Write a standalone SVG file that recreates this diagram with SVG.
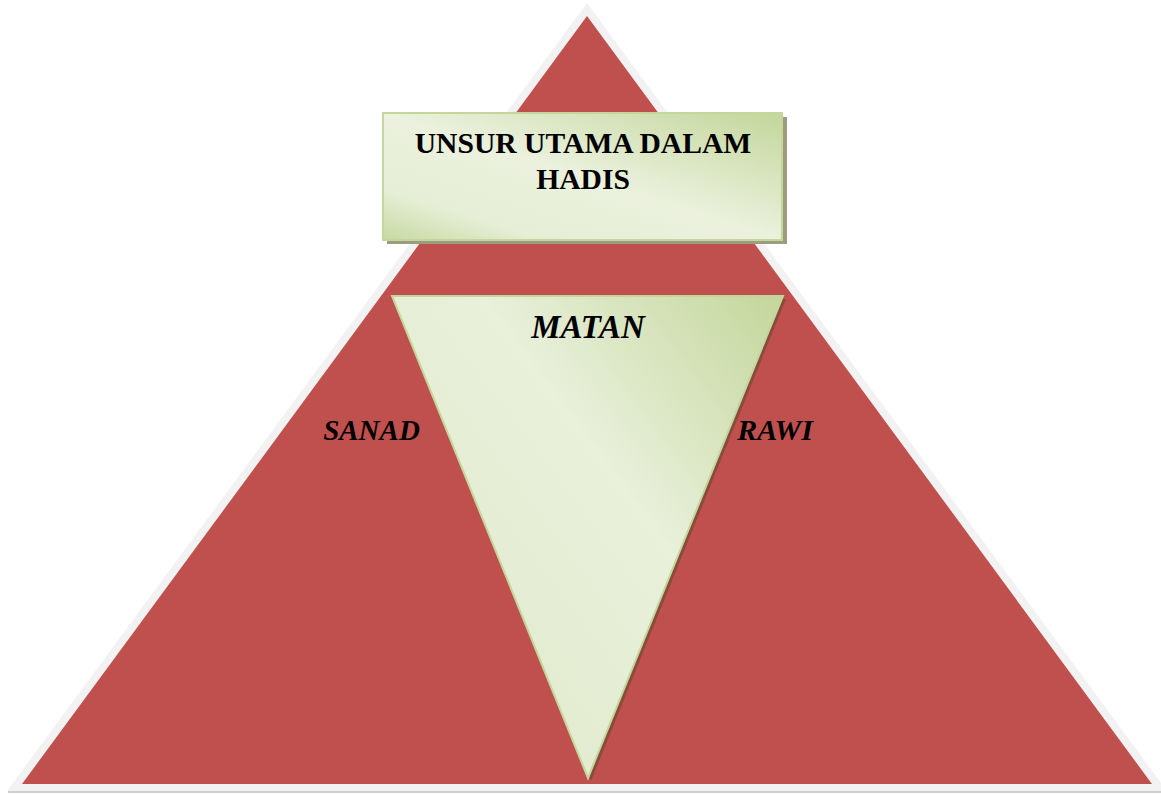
<svg xmlns="http://www.w3.org/2000/svg" width="1161" height="794" viewBox="0 0 1161 794">
  <defs>
    <linearGradient id="boxFill" x1="1" y1="0" x2="0" y2="1">
      <stop offset="0" stop-color="#c3d69b"/>
      <stop offset="0.5" stop-color="#ebf1dd"/>
      <stop offset="0.8" stop-color="#e6eed6"/>
      <stop offset="1" stop-color="#c7d9a2"/>
    </linearGradient>
    <linearGradient id="matanFill" gradientUnits="userSpaceOnUse" x1="783" y1="296" x2="430" y2="560">
      <stop offset="0" stop-color="#c3d69b"/>
      <stop offset="0.55" stop-color="#e9f0db"/>
      <stop offset="1" stop-color="#e3ecd0"/>
    </linearGradient>
    <style>
      .label { font-family: "Liberation Serif", "Times New Roman", serif; font-weight: bold; fill: #000; }
      .italic { font-style: italic; }
      .boxShadow { fill: #9b9c80; }
      .greenEdge { stroke: #c3d69b; stroke-width: 2; }
    </style>
  </defs>

  <rect width="1161" height="794" fill="#ffffff"/>

  <!-- base pyramid: pale rim with red body -->
  <g id="pyramid">
    <line x1="8" y1="792" x2="1161" y2="792" stroke="#cfcfcf" stroke-width="2"/>
    <polygon points="587,3 7,791 1167,791" fill="#f2f2f2"/>
    <polygon points="587,16 22,784 1152,784" fill="#c0504d"/>
  </g>

  <!-- connectors -->
  <g id="connectors">
    <rect x="578" y="239" width="12" height="8" fill="#c0504d"/>
  </g>

  <!-- inverted centre triangle -->
  <g id="matan">
    <polygon points="394,299 786,299 591,781" fill="#8a4b3c"/>
    <polygon points="392,296 783,296 588,778" fill="url(#matanFill)" class="greenEdge"/>
    <text class="label italic" x="588" y="338" font-size="33" text-anchor="middle">MATAN</text>
  </g>

  <!-- side labels -->
  <g id="sanad">
    <text class="label italic" x="371.5" y="440" font-size="29" text-anchor="middle">SANAD</text>
  </g>
  <g id="rawi">
    <text class="label italic" x="775" y="440" font-size="30" text-anchor="middle">RAWI</text>
  </g>

  <!-- title box -->
  <g id="title">
    <rect x="387" y="117" width="400" height="127" class="boxShadow"/>
    <rect x="383" y="113" width="399" height="127" fill="url(#boxFill)" class="greenEdge"/>
    <text class="label" x="583" y="153" font-size="29.6" text-anchor="middle">UNSUR UTAMA DALAM</text>
    <text class="label" x="583" y="189" font-size="29.6" text-anchor="middle">HADIS</text>
  </g>
</svg>
